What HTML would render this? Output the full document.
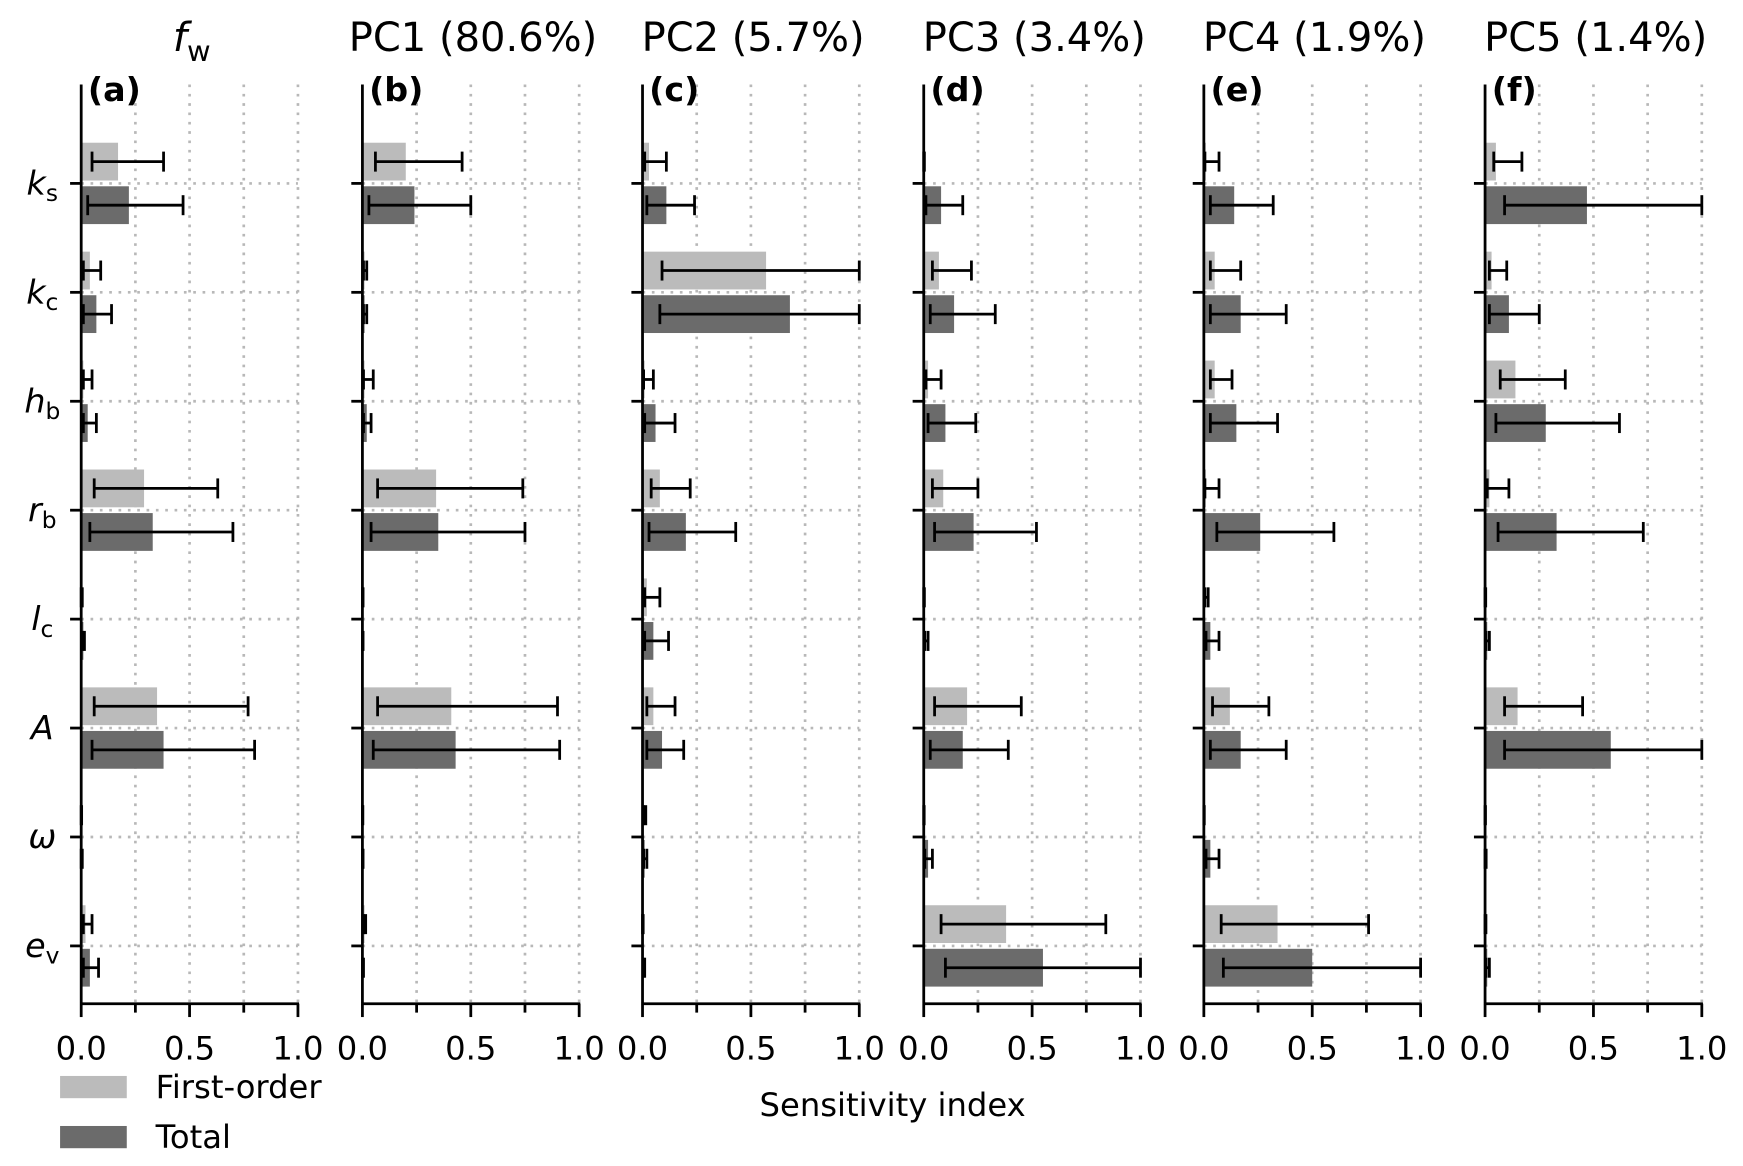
<!DOCTYPE html>
<html><head><meta charset="utf-8"><style>
html,body{margin:0;padding:0;background:#fff;}
svg{display:block;font-family:"DejaVu Sans","Liberation Sans",sans-serif;}
</style></head><body>
<svg id="chart" width="1743" height="1166" viewBox="0 0 1568 1049" xmlns="http://www.w3.org/2000/svg"></svg>
<script>
const params = ["k_s","k_c","h_b","r_b","l_c","A","ω","e_v"];
const panelTitles = ["f_w","PC1 (80.6%)","PC2 (5.7%)","PC3 (3.4%)","PC4 (1.9%)","PC5 (1.4%)"];
const panelLetters = ["(a)","(b)","(c)","(d)","(e)","(f)"];
const xTicks = [0,0.5,1.0];
const xTickLabels = ["0.0","0.5","1.0"];
const xGrid = [0.25,0.5,0.75,1.0];
const firstVal = [
 [0.17,0.04,0.01,0.29,0.005,0.35,0.002,0.02],
 [0.20,0.01,0.01,0.34,0.002,0.41,0.002,0.01],
 [0.03,0.57,0.01,0.08,0.02,0.05,0.003,0.002],
 [0.003,0.07,0.02,0.09,0.002,0.20,0.002,0.38],
 [0.01,0.05,0.05,0.01,0.003,0.12,0.002,0.34],
 [0.05,0.03,0.14,0.02,0.002,0.15,0.002,0.003]
];
const firstLo = [
 [0.05,0.01,0.01,0.06,0,0.06,0,0.01],
 [0.06,0.005,0.005,0.07,0,0.07,0,0.005],
 [0.01,0.09,0.005,0.04,0.01,0.02,0.005,0],
 [0,0.04,0.01,0.04,0,0.05,0,0.08],
 [0.005,0.03,0.03,0.005,0.005,0.04,0,0.08],
 [0.04,0.02,0.07,0.01,0,0.09,0,0]
];
const firstHi = [
 [0.38,0.09,0.05,0.63,0.005,0.77,0.002,0.05],
 [0.46,0.02,0.05,0.74,0.003,0.90,0.002,0.015],
 [0.11,1.0,0.05,0.22,0.08,0.15,0.015,0.003],
 [0.003,0.22,0.08,0.25,0.003,0.45,0.002,0.84],
 [0.07,0.17,0.13,0.07,0.02,0.30,0.002,0.76],
 [0.17,0.10,0.37,0.11,0.003,0.45,0.002,0.004]
];
const totalVal = [
 [0.22,0.07,0.03,0.33,0.01,0.38,0.005,0.04],
 [0.24,0.01,0.02,0.35,0.003,0.43,0.003,0.005],
 [0.11,0.68,0.06,0.20,0.05,0.09,0.01,0.005],
 [0.08,0.14,0.10,0.23,0.005,0.18,0.02,0.55],
 [0.14,0.17,0.15,0.26,0.03,0.17,0.03,0.50],
 [0.47,0.11,0.28,0.33,0.01,0.58,0.005,0.01]
];
const totalLo = [
 [0.03,0.01,0.01,0.04,0.005,0.05,0,0.01],
 [0.03,0.005,0.005,0.04,0,0.05,0,0],
 [0.02,0.08,0.01,0.03,0.01,0.02,0.005,0.003],
 [0.01,0.03,0.02,0.05,0.005,0.03,0.005,0.10],
 [0.03,0.03,0.03,0.06,0.01,0.03,0.01,0.09],
 [0.09,0.02,0.05,0.06,0.005,0.09,0,0.005]
];
const totalHi = [
 [0.47,0.14,0.07,0.70,0.015,0.80,0.005,0.08],
 [0.50,0.02,0.04,0.75,0.003,0.91,0.003,0.005],
 [0.24,1.0,0.15,0.43,0.12,0.19,0.02,0.01],
 [0.18,0.33,0.24,0.52,0.02,0.39,0.04,1.0],
 [0.32,0.38,0.34,0.60,0.07,0.38,0.07,1.0],
 [1.0,0.25,0.62,0.73,0.02,1.0,0.005,0.02]
];

const NS="http://www.w3.org/2000/svg";
const svg=document.getElementById('chart');
function mk(tag,attrs,parent){const e=document.createElementNS(NS,tag);for(const k in attrs)e.setAttribute(k,attrs[k]);(parent||svg).appendChild(e);return e;}
const panelX0=[73,326,578,831,1083,1336];
const W=195, yTop=76, yBot=903, cy0=165, dy=98, barH=34;
function xs(p,v){return panelX0[p]+v*W;}
function ys(i){return cy0+i*dy;}
const labelHtml=[["k","s"],["k","c"],["h","b"],["r","b"],["l","c"],["A",""],["ω",""],["e","v"]];

for(let p=0;p<6;p++){
  const g=mk('g',{});
  
  
  xGrid.forEach(v=>{const l=mk('line',{x1:xs(p,v),x2:xs(p,v),y1:yTop,y2:yBot,stroke:'#b8b8b8','stroke-width':2.4,'stroke-dasharray':'2.4,6'},g);
    });
  params.forEach((_,i)=>{const l=mk('line',{x1:xs(p,0),x2:xs(p,1),y1:ys(i),y2:ys(i),stroke:'#b8b8b8','stroke-width':2.4,'stroke-dasharray':'2.4,6'},g);
    });
  params.forEach((_,i)=>{
    const yc1=ys(i)-19.6, yc2=ys(i)+19.6;
    const b1=mk('rect',{x:xs(p,0),y:yc1-barH/2,width:Math.max(0,firstVal[p][i]*W),height:barH,fill:'#bbbbbb'},g);
    
    const b2=mk('rect',{x:xs(p,0),y:yc2-barH/2,width:Math.max(0,totalVal[p][i]*W),height:barH,fill:'#6b6b6b'},g);
    
    [[firstLo,firstHi,yc1,'first'],[totalLo,totalHi,yc2,'total']].forEach(([lo,hi,yc,nm])=>{
      const a=xs(p,lo[p][i]), b=xs(p,hi[p][i]);
      const eg=mk('g',{stroke:'#000','stroke-width':2.5},g);
      
      mk('line',{x1:a,x2:b,y1:yc,y2:yc},eg);
      mk('line',{x1:a,x2:a,y1:yc-9,y2:yc+9},eg);
      mk('line',{x1:b,x2:b,y1:yc-9,y2:yc+9},eg);
    });
    const t=mk('line',{x1:xs(p,0)-10,x2:xs(p,0),y1:ys(i),y2:ys(i),stroke:'#000','stroke-width':2.5},g);
    
  });
  const ay=mk('line',{x1:xs(p,0),x2:xs(p,0),y1:yTop,y2:yBot,stroke:'#000','stroke-width':2.5},g);
  
  const ax=mk('line',{x1:xs(p,0)-1,x2:xs(p,1)+1,y1:yBot,y2:yBot,stroke:'#000','stroke-width':2.5},g);
  
  [0,0.25,0.5,0.75,1].forEach(v=>{const l=mk('line',{x1:xs(p,v),x2:xs(p,v),y1:yBot,y2:yBot+(xTicks.includes(v)?12:8),stroke:'#000','stroke-width':2.5},g);
    });
  xTicks.forEach((v,k)=>{const t=mk('text',{x:xs(p,v),y:953,'font-size':29,'text-anchor':'middle'},g);t.textContent=xTickLabels[k];
    });
  const lt=mk('text',{x:xs(p,0)+6,y:91,'font-size':30,'font-weight':'bold'},g);lt.textContent=panelLetters[p];
  
  const tt=mk('text',{x:xs(p,0.5)+2,y:46,'font-size':36,'text-anchor':'middle'},g);
  
  if(p===0){tt.innerHTML='<tspan font-style="italic">f</tspan><tspan font-size="26" dy="9">w</tspan>';}
  else tt.textContent=panelTitles[p];
}
labelHtml.forEach(([m,s],i)=>{
  const t=mk('text',{x:38,y:ys(i)+10,'font-size':30,'text-anchor':'middle'});
  
  t.innerHTML='<tspan font-style="italic">'+m+'</tspan>'+(s?'<tspan font-size="21" dy="6">'+s+'</tspan>':'');
});
const xl=mk('text',{x:803,y:1004,'font-size':29,'text-anchor':'middle'});xl.textContent='Sensitivity index';

const lg=mk('g',{});
const l1=mk('rect',{x:54,y:968,width:60,height:20,fill:'#bbbbbb'},lg);
const t1=mk('text',{x:140,y:988,'font-size':29},lg);t1.textContent='First-order';
const l2=mk('rect',{x:54,y:1013,width:60,height:20,fill:'#6b6b6b'},lg);
const t2=mk('text',{x:140,y:1033,'font-size':29},lg);t2.textContent='Total';
</script>
</body></html>
